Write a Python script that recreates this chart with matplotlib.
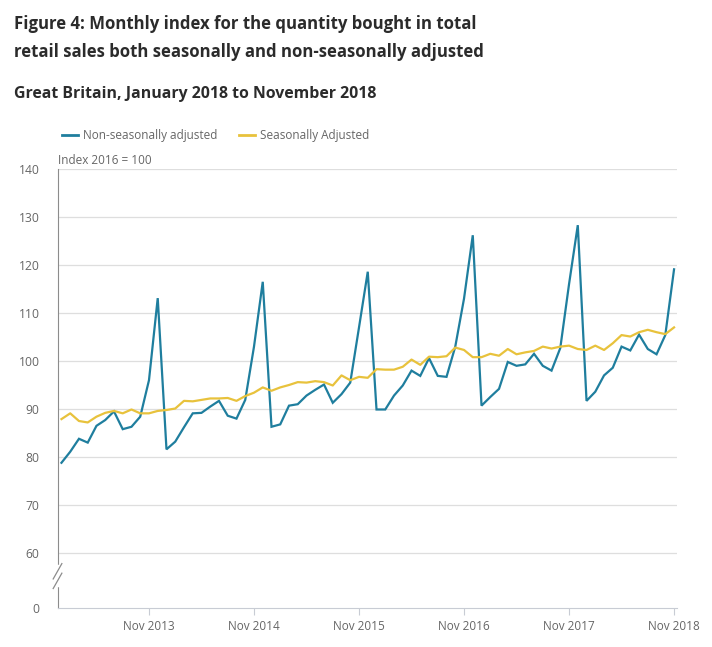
import numpy as np
import matplotlib
matplotlib.use("Agg")
import matplotlib.pyplot as plt

plt.rcParams['font.family'] = ['Open Sans', 'DejaVu Sans']

# monthly index, Jan 2013 .. Nov 2018 (2016 = 100)
nsa = [78.8, 81.1, 83.8, 83.0, 86.5, 87.7, 89.5, 85.8, 86.3, 88.4, 96.0, 113.1,
       81.6, 83.2, 86.2, 89.1, 89.2, 90.5, 91.7, 88.6, 88.0, 91.9, 103.0, 116.5,
       86.3, 86.8, 90.7, 91.0, 92.8, 94.0, 95.1, 91.3, 93.1, 95.5, 107.0, 118.6,
       89.9, 89.9, 92.8, 94.9, 98.0, 96.9, 100.6, 96.9, 96.7, 103.0, 113.0, 126.2,
       90.7, 92.5, 94.2, 99.8, 99.0, 99.3, 101.5, 99.0, 98.0, 102.7, 116.0, 128.3,
       91.7, 93.6, 97.0, 98.6, 103.0, 102.2, 105.5, 102.5, 101.4, 105.4, 119.1]
sa = [87.9, 89.1, 87.5, 87.2, 88.4, 89.2, 89.6, 89.1, 89.9, 89.1, 89.1, 89.6,
      89.8, 90.1, 91.7, 91.6, 91.9, 92.2, 92.2, 92.3, 91.7, 92.7, 93.4, 94.5,
      93.8, 94.5, 95.0, 95.6, 95.5, 95.8, 95.6, 94.9, 97.0, 96.0, 96.7, 96.5,
      98.3, 98.2, 98.2, 98.8, 100.3, 99.2, 100.9, 100.8, 101.0, 102.8, 102.3, 100.8,
      100.8, 101.5, 101.1, 102.5, 101.4, 101.8, 102.1, 103.0, 102.6, 103.0, 103.2, 102.5,
      102.3, 103.2, 102.3, 103.7, 105.4, 105.1, 106.0, 106.5, 106.0, 105.6, 107.0]
tick_labels = ["Nov 2013", "Nov 2014", "Nov 2015", "Nov 2016", "Nov 2017", "Nov 2018"]
tick_months = [10, 22, 34, 46, 58, 70]

teal = "#1f7e9e"
yellow = "#e8c23c"
grey_txt = "#666666"
zero_pos = 48.55  # where "0" sits below the axis break

fig = plt.figure(figsize=(7.12, 6.47), dpi=100)
ax = fig.add_axes([0.0808, 0.0603, 0.8702, 0.6785])

x = np.arange(len(nsa))
ax.plot(x, nsa, color=teal, lw=1.6, solid_joinstyle='miter', zorder=3)
ax.plot(x, sa, color=yellow, lw=1.6, zorder=3)

ax.set_xlim(-0.45, 70.35)
ax.set_ylim(zero_pos, 140)
yt = [zero_pos] + list(range(60, 141, 10))
ax.set_yticks(yt)
ax.set_yticklabels(["0"] + [str(v) for v in range(60, 141, 10)])
ax.set_xticks(tick_months)
ax.set_xticklabels(tick_labels)

for v in range(60, 141, 10):
    ax.axhline(v, color="#dedede", lw=0.9, zorder=1)

for s in ["top", "right"]:
    ax.spines[s].set_visible(False)
ax.spines["left"].set_color("#8c8c8c")
ax.spines["bottom"].set_color("#c8ccd4")
ax.tick_params(axis="y", length=0, pad=13, labelsize=8.7, labelcolor=grey_txt)
ax.tick_params(axis="x", length=5, color="#c8ccd4", pad=4, labelsize=8.5, labelcolor=grey_txt)

# axis break marks
trans = ax.get_yaxis_transform()
ax.plot([0, 0], [53.4, 57.2], transform=trans, color="white", lw=2.5, clip_on=False, zorder=3.5)
for off in (0, 2.0):
    ax.plot([-0.007, 0.007], [52.6 + off, 55.8 + off], transform=trans, color="#8c8c8c",
            lw=0.9, clip_on=False, zorder=4)

fig.text(0.0197, 0.955, "Figure 4: Monthly index for the quantity bought in total",
         fontsize=12.1, fontweight="bold", color="#2b2b2b", va="baseline")
fig.text(0.0197, 0.912, "retail sales both seasonally and non-seasonally adjusted",
         fontsize=12.1, fontweight="bold", color="#2b2b2b", va="baseline")
fig.text(0.0197, 0.848, "Great Britain, January 2018 to November 2018",
         fontsize=11.4, fontweight="bold", color="#2b2b2b", va="baseline")
fig.text(0.0815, 0.747, "Index 2016 = 100", fontsize=8.5, color=grey_txt, va="baseline")

# legend
ly = 1 - 135 / 647
fig.add_artist(plt.Line2D([62 / 712, 78 / 712], [ly, ly], color=teal, lw=2))
fig.text(83 / 712, ly, "Non-seasonally adjusted", fontsize=8.5, color=grey_txt, va="center")
fig.add_artist(plt.Line2D([239 / 712, 255 / 712], [ly, ly], color=yellow, lw=2))
fig.text(260 / 712, ly, "Seasonally Adjusted", fontsize=8.5, color=grey_txt, va="center")

fig.savefig("out.png", dpi=100)
